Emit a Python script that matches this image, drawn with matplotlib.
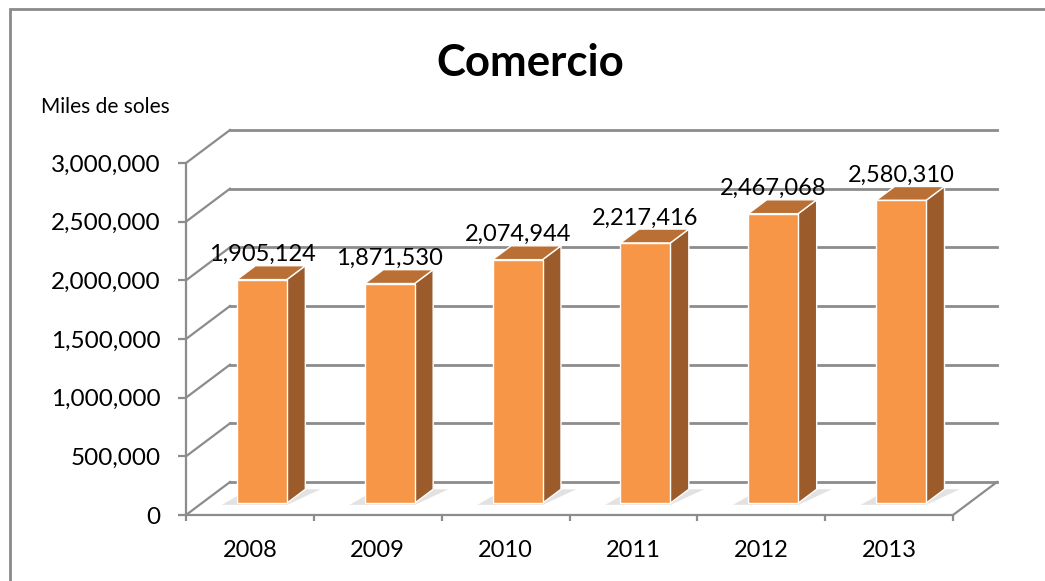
import numpy as np
import matplotlib
matplotlib.use("Agg")
import matplotlib.pyplot as plt
from matplotlib.patches import Polygon, Rectangle

# datos
years = ["2008", "2009", "2010", "2011", "2012", "2013"]
values = [1905124, 1871530, 2074944, 2217416, 2467068, 2580310]
y_ticks = [0, 500000, 1000000, 1500000, 2000000, 2500000, 3000000]
title = "Comercio"
y_label = "Miles de soles"

plt.rcParams["font.family"] = ["Lato", "DejaVu Sans"]

W, H = 1045, 581
fig = plt.figure(figsize=(W / 100, H / 100), dpi=100)
fig.patch.set_facecolor("white")

# marco exterior del grafico
fig.patches.append(Rectangle((10 / W, -0.1), 1.2, (H - 9) / H + 0.1,
                             transform=fig.transFigure, fill=False,
                             edgecolor="#8a8a8a", linewidth=2))

ax = fig.add_axes([186 / W, 1 - 515 / H, (953 - 186) / W, (515 - 163) / H])
ax.set_xlim(-0.5, len(years) - 0.5)
ax.set_ylim(0, 3000000)
ax.patch.set_alpha(0)

grid_col = "#8c8c8c"

# profundidad 3D (en pixeles -> unidades de datos)
px_x = ax.get_window_extent().width / (len(years))
px_y = ax.get_window_extent().height / 3000000
DX = 44 / px_x
DY = 33 / px_y

x = np.arange(len(years))
x0, x1 = -0.5, len(years) - 0.5

# pared trasera, pared izquierda y piso
for v in y_ticks:
    ax.plot([x0 + DX, x1 + DX], [v + DY, v + DY], color=grid_col, lw=2,
            clip_on=False, zorder=1)
    ax.plot([x0, x0 + DX], [v, v + DY], color=grid_col, lw=1.6,
            clip_on=False, zorder=1)
ax.plot([x1, x1 + DX], [0, DY], color=grid_col, lw=1.6, clip_on=False, zorder=1)

# barras 3D
f = 0.36      # posicion en profundidad de la cara frontal
d = 0.42      # profundidad de la barra
bw = 0.39
xc = x + f * DX - 0.03
base = f * DY
tops = np.array(values) + base

front_col = "#F79646"
top_col = "#BA7034"
side_col = "#9B5B2B"

for xi, t in zip(xc, tops):
    xl, xr = xi - bw / 2, xi + bw / 2
    # sombra en el piso
    ax.add_patch(Polygon([(xl - 0.12, base - 15000), (xr, base - 15000),
                          (xr + d * DX + 0.12, base + d * DY),
                          (xl + d * DX - 0.05, base + d * DY)],
                         closed=True, facecolor="#d0d0d0", edgecolor="none",
                         alpha=0.6, zorder=2, clip_on=False))
    ax.add_patch(Polygon([(xr, base), (xr + d * DX, base + d * DY),
                          (xr + d * DX, t + d * DY), (xr, t)],
                         closed=True, facecolor=side_col, edgecolor="white",
                         lw=1, zorder=3, clip_on=False))
    ax.add_patch(Polygon([(xl, t), (xr, t), (xr + d * DX, t + d * DY),
                          (xl + d * DX, t + d * DY)],
                         closed=True, facecolor=top_col, edgecolor="white",
                         lw=1, zorder=3, clip_on=False))

ax.bar(xc, values, bottom=base, width=bw, color=front_col, edgecolor="white",
       linewidth=1, zorder=4, clip_on=False)

for xi, t, v in zip(xc, tops, values):
    ax.annotate(f"{v:,}", (xi, t), xytext=(0, 18), textcoords="offset points",
                ha="center", va="center", fontsize=17, color="black", zorder=6)

# ejes
for s in ["top", "right"]:
    ax.spines[s].set_visible(False)
for s in ["left", "bottom"]:
    ax.spines[s].set_color(grid_col)
    ax.spines[s].set_linewidth(1.6)
    ax.spines[s].set_zorder(1)

ax.set_yticks(y_ticks)
ax.set_yticklabels([f"{v:,}" for v in y_ticks])
ax.tick_params(axis="y", direction="out", length=5.5, width=1.6, color=grid_col,
               labelsize=17.5, pad=13)
ax.set_xticks(x)
ax.set_xticklabels(years)
ax.set_xticks(np.arange(len(years) + 1) - 0.5, minor=True)
ax.tick_params(axis="x", which="major", length=0, labelsize=17, pad=18)
ax.tick_params(axis="x", which="minor", direction="out", length=4.5, width=1.6,
               color=grid_col)

fig.text(530 / W, 1 - 63 / H, title, ha="center", va="center", fontsize=31.5,
         fontweight="bold")
fig.text(41 / W, 1 - 107 / H, y_label, ha="left", va="center", fontsize=15)

fig.savefig("out.png", dpi=100)
